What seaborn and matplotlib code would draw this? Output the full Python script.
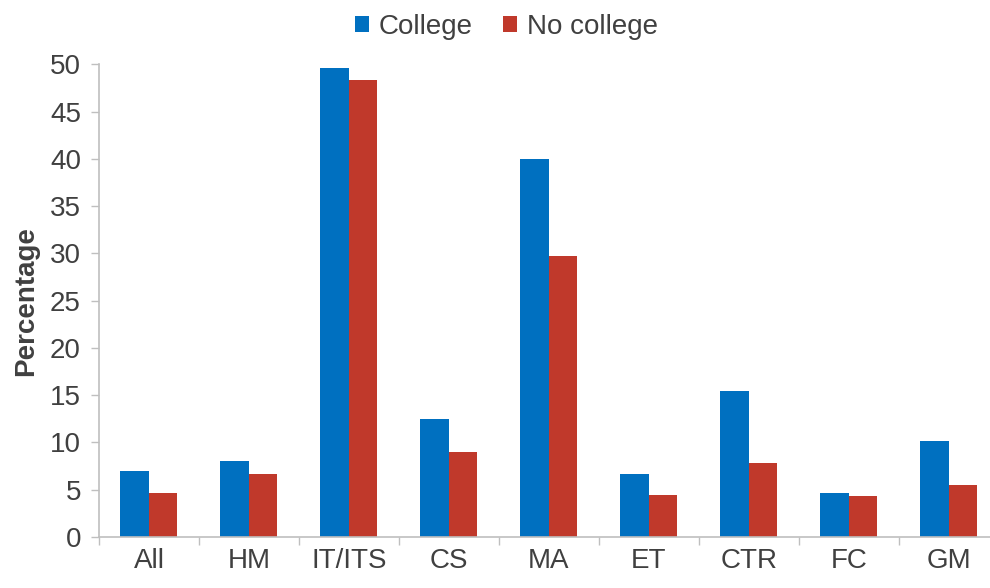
import matplotlib
matplotlib.use("Agg")
import matplotlib.pyplot as plt
import numpy as np
import pandas as pd
import seaborn as sns

categories = ["All", "HM", "IT/ITS", "CS", "MA", "ET", "CTR", "FC", "GM"]
college = [7.0, 8.0, 49.6, 12.5, 40.0, 6.7, 15.4, 4.65, 10.2]
no_college = [4.7, 6.7, 48.3, 9.0, 29.7, 4.4, 7.8, 4.3, 5.5]
series = ["College", "No college"]
yticks = [0, 5, 10, 15, 20, 25, 30, 35, 40, 45, 50]

df = pd.DataFrame({
    "category": categories * 2,
    "value": college + no_college,
    "group": [series[0]] * len(categories) + [series[1]] * len(categories),
})

sns.set_theme(style="white")
plt.rcParams["font.family"] = ["Liberation Sans", "DejaVu Sans"]

text_color = "#404040"
axis_color = "#BFBFBF"
fs = 20

fig = plt.figure(figsize=(9.9, 5.88), dpi=100)
ax = fig.add_axes([0.1, 0.0867, 0.909, 0.804])

sns.barplot(data=df, x="category", y="value", hue="group", order=categories,
            hue_order=series, palette=["#0070C0", "#C0392B"], width=0.57,
            saturation=1, linewidth=0, ax=ax, legend=True)

ax.set_xlim(-0.5, len(categories) - 0.5)
ax.set_ylim(0, 50)
ax.set_yticks(yticks)
ax.set_yticklabels([str(t) for t in yticks], fontsize=fs, color=text_color)
ax.set_xticks(range(len(categories)))
ax.set_xticklabels(categories, fontsize=fs, color=text_color)
ax.set_xticks(np.arange(-0.5, len(categories), 1.0), minor=True)
ax.tick_params(axis="x", which="major", length=0, pad=8)
ax.tick_params(axis="x", which="minor", length=6, width=1, color=axis_color,
               direction="out", bottom=True)
ax.tick_params(axis="y", which="major", length=6, width=1, color=axis_color,
               direction="out", left=True, pad=7)

for side in ["top", "right"]:
    ax.spines[side].set_visible(False)
for side in ["left", "bottom"]:
    ax.spines[side].set_color(axis_color)
    ax.spines[side].set_linewidth(1.2)

ax.set_xlabel("")
ax.set_ylabel("Percentage", fontsize=fs, fontweight="bold", color=text_color,
              labelpad=8)

leg = ax.legend(loc="upper center", bbox_to_anchor=(0.453, 1.16), ncol=2,
                frameon=False, fontsize=fs, handlelength=0.5, handleheight=0.5,
                handletextpad=0.35, columnspacing=1.1)
for t in leg.get_texts():
    t.set_color(text_color)

fig.savefig("out.png", dpi=100)
